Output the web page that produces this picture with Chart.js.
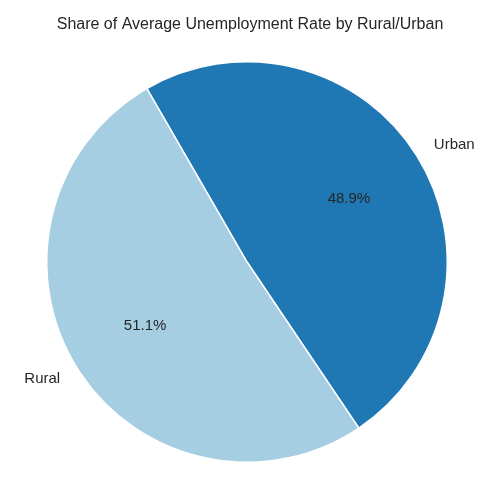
<!DOCTYPE html>
<html>
<head>
<script src="https://cdn.jsdelivr.net/npm/chart.js@4"></script>
<style>body{margin:0;background:#fff}</style>
</head>
<body>
<canvas id="pie" width="500" height="500"></canvas>
<script>
// Chart.js draws clockwise, so Urban comes first
var categories = ['Urban', 'Rural'];
var shares = [48.9, 51.1];
var colours = ['#1f78b4', '#a6cee3'];

var labelPlugin = {
    id: 'pieLabels',
    afterDraw: function(chart) {
        var ctx = chart.ctx;
        ctx.save();
        ctx.fillStyle = '#262626';
        ctx.textAlign = 'center';
        ctx.textBaseline = 'middle';
        ctx.font = '16px "Liberation Sans", Arial, sans-serif';
        ctx.fillText('Share of Average Unemployment Rate by Rural/Urban', 250, 25);
        ctx.font = '15px "Liberation Sans", Arial, sans-serif';
        chart.getDatasetMeta(0).data.forEach(function(arc, i) {
            var mid = (arc.startAngle + arc.endAngle) / 2;
            var r = arc.outerRadius;
            ctx.fillText(shares[i].toFixed(1) + '%', arc.x + Math.cos(mid) * r * 0.6, arc.y + Math.sin(mid) * r * 0.6);
            var lx = arc.x + Math.cos(mid) * r * 1.1;
            ctx.textAlign = Math.cos(mid) > 0 ? 'left' : 'right';
            ctx.fillText(categories[i], lx, arc.y + Math.sin(mid) * r * 1.1);
            ctx.textAlign = 'center';
        });
        ctx.restore();
    }
};

new Chart(document.getElementById('pie').getContext('2d'), {
    type: 'pie',
    data: {
        labels: categories,
        datasets: [{
            data: shares,
            backgroundColor: colours,
            borderColor: '#ffffff',
            borderWidth: 1.5
        }]
    },
    options: {
        responsive: false,
        animation: false,
        rotation: -30,
        layout: { padding: { top: 61, bottom: 37, left: 46, right: 52 } },
        plugins: { legend: { display: false }, tooltip: { enabled: false }, title: { display: false } }
    },
    plugins: [labelPlugin]
});
</script>
</body>
</html>
